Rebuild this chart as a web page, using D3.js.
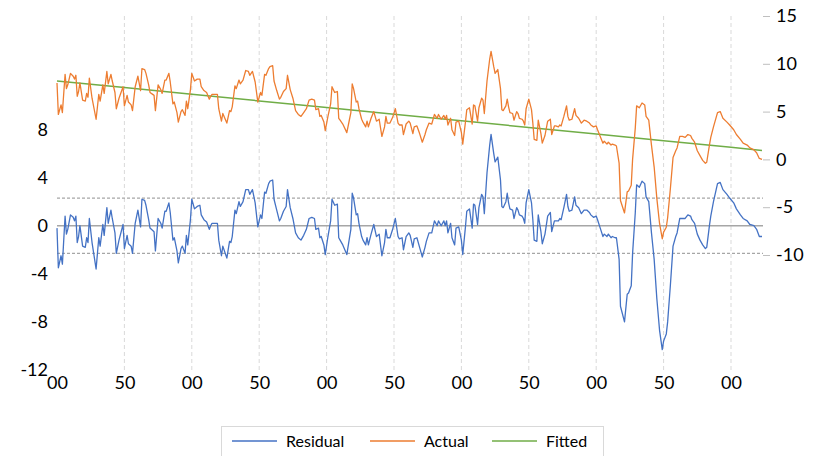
<!DOCTYPE html>
<html>
<head>
<meta charset="utf-8">
<script src="https://cdn.jsdelivr.net/npm/d3@7"></script>
<style>
  body { margin: 0; background: #fff; }
  svg { display: block; font-family: Lato, "Noto Sans", sans-serif; }
</style>
</head>
<body>
<svg id="chart" width="817" height="456"></svg>
<script>
// years of each point
const years = [
  1500,1501,1503,1504,1506,1507,1508,1510,1512,1513,1514,1515,1516,1517,1519,1521,1522,1523,1524,1526,
  1529,1531,1532,1534,1535,1537,1538,1540,1541,1543,1544,1546,1549,1550,1552,1553,1555,1556,1558,1560,
  1562,1563,1565,1566,1568,1569,1571,1572,1573,1575,1577,1578,1580,1581,1583,1584,1586,1587,1589,1590,
  1592,1593,1595,1596,1597,1599,1600,1602,1604,1606,1607,1609,1611,1613,1614,1615,1619,1620,1622,1623,
  1626,1628,1629,1630,1632,1633,1635,1636,1638,1640,1642,1643,1645,1647,1649,1651,1652,1654,1655,1657,
  1658,1660,1661,1663,1665,1666,1668,1670,1671,1673,1675,1677,1679,1681,1683,1685,1687,1689,1691,1692,
  1694,1695,1696,1698,1699,1701,1703,1704,1706,1708,1709,1710,1712,1715,1717,1718,1719,1720,1722,1723,
  1724,1726,1727,1729,1730,1731,1733,1735,1737,1739,1741,1743,1744,1745,1747,1749,1751,1753,1754,1756,
  1757,1759,1761,1762,1764,1765,1767,1769,1771,1773,1774,1776,1778,1780,1781,1782,1783,1785,1787,1788,
  1789,1790,1792,1793,1795,1796,1798,1800,1801,1803,1804,1806,1808,1809,1810,1812,1813,1815,1816,1817,
  1819,1821,1822,1824,1825,1827,1829,1830,1831,1833,1834,1835,1836,1838,1839,1841,1842,1843,1845,1846,
  1847,1848,1850,1852,1853,1854,1856,1857,1859,1860,1862,1864,1866,1867,1869,1870,1872,1873,1874,1876,
  1878,1879,1880,1882,1884,1885,1887,1889,1891,1893,1895,1896,1898,1900,1901,1903,1905,1906,1908,1909,
  1911,1912,1914,1915,1917,1918,1921,1923,1924,1926,1927,1929,1930,1932,1934,1936,1937,1939,1941,1943,
  1945,1947,1949,1950,1952,1953,1955,1957,1959,1960,1962,1964,1966,1968,1970,1971,1973,1975,1977,1979,
  1981,1982,1984,1985,1987,1989,1990,1992,1994,1997,1999,2002,2004,2007,2009,2012,2014,2017,2019,2021,
  2023
];

// residual (left axis)
const residual = [
  -0.2,-3.5,-2.5,-3.2,0.8,-0.7,-0.3,0.9,0.7,0.4,0.8,-1.4,-0.9,0.0,-1.7,-1.8,-1.0,-1.4,0.6,-1.4,
  -3.6,-1.0,-1.7,0.1,-0.8,1.5,0.2,1.3,0.6,-0.6,-2.3,-1.2,0.1,-1.9,-0.8,-1.5,-1.7,-2.3,0.2,1.3,
  -0.1,2.2,2.1,1.7,0.5,-0.2,-0.4,-0.5,-2.1,0.6,0.2,-0.2,1.2,1.2,1.9,1.1,-1.2,-1.0,-2.1,-3.1,
  -1.9,-1.7,-2.3,-0.8,-1.6,0.5,2.2,1.4,1.6,1.7,0.9,0.5,0.3,-0.3,0.0,0.2,0.2,-1.2,-2.5,-1.7,
  -2.7,-1.3,-1.4,-0.9,1.3,1.0,2.0,1.6,2.0,3.0,3.0,2.6,3.0,1.9,-0.1,0.9,0.6,2.8,2.7,3.5,
  3.7,3.8,2.2,1.3,0.4,0.6,1.2,1.6,3.0,1.5,0.6,-0.6,-1.0,-1.2,-0.8,-0.3,0.6,0.7,0.6,-0.3,
  -0.2,-1.0,-0.9,-1.6,-2.4,-0.9,0.4,2.2,1.7,1.8,-1.0,-1.2,-1.6,-2.4,-1.0,-0.3,2.7,2.3,0.9,1.0,
  0.2,-0.9,-1.2,-1.6,-1.0,-1.6,-0.7,0.1,-0.9,-0.7,-2.5,-1.4,-0.3,-1.0,-1.0,-0.3,0.6,-0.9,-1.1,-1.0,
  -2.0,-0.9,-0.6,-0.8,-1.8,-1.1,-1.0,-1.8,-2.6,-1.8,-1.3,-0.6,-0.6,0.4,0.2,0.0,0.4,0.0,0.4,0.0,
  0.4,-0.6,0.2,-1.0,-1.6,-0.2,-0.1,-1.2,-2.4,-0.1,1.2,1.4,-0.2,1.8,1.7,0.1,1.5,2.6,2.4,1.0,
  4.4,6.7,7.6,6.0,5.3,5.7,3.8,1.6,1.5,2.0,2.7,1.9,1.4,1.3,0.6,1.5,1.3,0.9,0.8,0.6,
  0.2,1.9,3.0,1.9,0.5,-1.2,-1.3,0.9,-0.5,-1.5,-0.7,0.8,1.1,-0.5,0.4,0.4,0.4,0.6,0.5,1.5,
  2.6,1.6,1.2,1.3,2.4,1.7,1.5,1.0,1.3,1.3,1.1,0.9,0.7,0.8,0.5,-0.2,-0.9,-0.7,-0.9,-0.7,
  -1.0,-0.9,-1.0,-1.0,-2.8,-6.7,-8.0,-5.7,-5.6,-5.0,-2.3,1.1,3.4,3.2,3.7,3.5,2.4,2.0,-0.6,-2.8,
  -6.1,-8.7,-10.3,-9.6,-9.0,-8.0,-5.0,-1.7,-0.9,-0.6,0.6,0.6,0.6,0.9,0.8,0.5,0.2,-0.7,-1.2,-1.6,
  -1.9,-1.8,0.0,0.8,2.0,3.0,3.5,3.6,3.0,2.6,2.3,1.9,1.4,0.9,0.6,0.4,0.1,0.0,-0.3,-0.9,
  -0.9
];

// actual (right axis)
const actual = [
  8.0,4.7,5.7,4.9,8.9,7.4,7.8,9.0,8.7,8.4,8.8,6.6,7.1,8.0,6.2,6.1,6.9,6.5,8.5,6.4,
  4.2,6.8,6.1,7.8,6.9,9.2,7.9,8.9,8.2,7.0,5.3,6.4,7.6,5.6,6.7,6.0,5.7,5.1,7.6,8.7,
  7.2,9.5,9.4,9.0,7.8,7.0,6.8,6.7,5.1,7.8,7.3,6.9,8.3,8.3,9.0,8.1,5.8,6.0,4.9,3.9,
  5.0,5.2,4.6,6.1,5.3,7.3,9.0,8.2,8.4,8.4,7.6,7.2,7.0,6.3,6.6,6.8,6.8,5.3,4.0,4.8,
  3.8,5.1,5.0,5.5,7.7,7.4,8.3,7.9,8.3,9.3,9.2,8.8,9.2,8.1,6.0,7.0,6.7,8.9,8.8,9.5,
  9.7,9.8,8.2,7.2,6.3,6.5,7.1,7.4,8.8,7.3,6.4,5.1,4.7,4.5,4.9,5.3,6.2,6.3,6.2,5.2,
  5.3,4.5,4.6,3.9,3.0,4.5,5.8,7.6,7.0,7.1,4.3,4.1,3.7,2.8,4.2,4.9,7.9,7.4,6.0,6.1,
  5.3,4.2,3.9,3.4,4.0,3.4,4.3,5.0,4.0,4.2,2.4,3.4,4.5,3.8,3.8,4.4,5.3,3.8,3.6,3.6,
  2.6,3.7,4.0,3.8,2.7,3.4,3.5,2.7,1.8,2.6,3.1,3.8,3.7,4.7,4.5,4.3,4.7,4.2,4.6,4.2,
  4.6,3.6,4.3,3.1,2.5,3.9,4.0,2.8,1.6,3.9,5.2,5.4,3.7,5.7,5.6,4.0,5.4,6.4,6.2,4.8,
  8.2,10.5,11.3,9.7,9.0,9.4,7.4,5.2,5.1,5.6,6.3,5.5,4.9,4.8,4.1,5.0,4.8,4.3,4.2,4.0,
  3.6,5.3,6.3,5.2,3.8,2.1,2.0,4.1,2.7,1.7,2.5,4.0,4.2,2.6,3.5,3.5,3.4,3.6,3.5,4.5,
  5.6,4.5,4.1,4.2,5.3,4.6,4.3,3.8,4.1,4.0,3.8,3.6,3.4,3.5,3.1,2.4,1.7,1.9,1.6,1.8,
  1.5,1.6,1.5,1.4,-0.4,-4.3,-5.6,-3.4,-3.3,-2.7,0.0,3.3,5.6,5.4,5.9,5.7,4.5,4.1,1.5,-0.8,
  -4.1,-6.7,-8.3,-7.6,-7.1,-6.1,-3.1,0.2,0.9,1.2,2.4,2.4,2.3,2.6,2.5,2.2,1.8,0.9,0.4,-0.1,
  -0.4,-0.3,1.5,2.3,3.4,4.4,4.9,5.0,4.3,3.9,3.6,3.1,2.6,2.1,1.7,1.5,1.2,1.0,0.7,0.1,
  0.0
];

// fitted trend (right axis), read at the 50-year marks and the last year
const fittedYears = [1500,1550,1600,1650,1700,1750,1800,1850,1900,1950,2000,2023];
const fitted = [8.2,7.51,6.81,6.12,5.42,4.73,4.04,3.34,2.65,1.95,1.26,0.94];

// tick labels
const xTicks = [1500,1550,1600,1650,1700,1750,1800,1850,1900,1950,2000];
const leftTicks = [-12,-8,-4,0,4,8];
const rightTicks = [-10,-5,0,5,10,15];
const bandLevel = 2.3;

const seriesNames = ['Residual','Actual','Fitted'];
const seriesColors = ['#4472C4','#ED7D31','#70AD47'];

const svg = d3.select('#chart');

const xLeft = 57, xRight = 763, yTop = 16, yBottom = 370;

//scales
const xScale = d3.scaleLinear().domain([1500, 2000]).range([57, 731]);
const yLeft = d3.scaleLinear().domain([-12, 8]).range([370, 129.5]);
const yRight = d3.scaleLinear().domain([-10, 15]).range([255, 16]);

//vertical dashed grid lines
svg.append('g')
    .selectAll('line')
    .data(xTicks.slice(1))
    .enter()
    .append('line')
        .attr('x1', d => xScale(d))
        .attr('x2', d => xScale(d))
        .attr('y1', yTop)
        .attr('y2', yBottom)
        .attr('stroke', '#d9d9d9')
        .attr('stroke-width', 1)
        .attr('stroke-dasharray', '4,3');

//zero line and +/- band lines for the residual
svg.append('line')
    .attr('x1', xLeft).attr('x2', xRight)
    .attr('y1', yLeft(0)).attr('y2', yLeft(0))
    .attr('stroke', '#a6a6a6')
    .attr('stroke-width', 1.5);

[bandLevel, -bandLevel].forEach(v => {
    svg.append('line')
        .attr('x1', xLeft).attr('x2', xRight)
        .attr('y1', yLeft(v)).attr('y2', yLeft(v))
        .attr('stroke', '#a6a6a6')
        .attr('stroke-width', 1.2)
        .attr('stroke-dasharray', '3,2');
});

//plain hyphen for negative numbers, like the original
const plainFormat = d => String(d);

//left axis
const leftAxis = svg.append('g')
    .attr('transform', `translate(${xLeft}, 0)`)
    .call(d3.axisLeft(yLeft).tickValues(leftTicks).tickSize(0).tickPadding(9).tickFormat(plainFormat));
leftAxis.select('.domain').remove();

//right axis
const rightAxis = svg.append('g')
    .attr('transform', `translate(${xRight}, 0)`)
    .call(d3.axisRight(yRight).tickValues(rightTicks).tickSize(7).tickPadding(6).tickFormat(plainFormat));
rightAxis.select('.domain').remove();
rightAxis.selectAll('.tick line').attr('stroke', '#bfbfbf');

//bottom axis
const bottomAxis = svg.append('g')
    .attr('transform', `translate(0, ${yBottom})`)
    .call(d3.axisBottom(xScale).tickValues(xTicks).tickSize(0).tickPadding(6)
        .tickFormat(d => String(d % 100).padStart(2, '0')));
bottomAxis.select('.domain').remove();

svg.selectAll('.tick text')
    .attr('font-family', 'Lato, "Noto Sans", sans-serif')
    .attr('font-size', '18px')
    .attr('fill', '#000');

//lines
const residualLine = d3.line()
    .x((d, i) => xScale(years[i]))
    .y(d => yLeft(d));

const actualLine = d3.line()
    .x((d, i) => xScale(years[i]))
    .y(d => yRight(d));

const fittedLine = d3.line()
    .x((d, i) => xScale(fittedYears[i]))
    .y(d => yRight(d));

svg.append('path')
    .datum(fitted)
    .attr('fill', 'none')
    .attr('stroke', seriesColors[2])
    .attr('stroke-width', 1.5)
    .attr('d', fittedLine);

svg.append('path')
    .datum(actual)
    .attr('fill', 'none')
    .attr('stroke', seriesColors[1])
    .attr('stroke-width', 1.3)
    .attr('stroke-linejoin', 'round')
    .attr('d', actualLine);

svg.append('path')
    .datum(residual)
    .attr('fill', 'none')
    .attr('stroke', seriesColors[0])
    .attr('stroke-width', 1.3)
    .attr('stroke-linejoin', 'round')
    .attr('d', residualLine);

//legend
const legend = svg.append('g');
legend.append('rect')
    .attr('x', 221.5).attr('y', 426.5)
    .attr('width', 382).attr('height', 40)
    .attr('fill', '#fff')
    .attr('stroke', '#d9d9d9');

const legendX = [232, 370, 492];
seriesNames.forEach((name, i) => {
    legend.append('line')
        .attr('x1', legendX[i]).attr('x2', legendX[i] + 45)
        .attr('y1', 441).attr('y2', 441)
        .attr('stroke', seriesColors[i])
        .attr('stroke-width', 1.5);
    legend.append('text')
        .attr('x', legendX[i] + 54)
        .attr('y', 441)
        .attr('dy', '0.35em')
        .attr('font-size', '16px')
        .attr('fill', '#000')
        .text(name);
});
</script>
</body>
</html>
